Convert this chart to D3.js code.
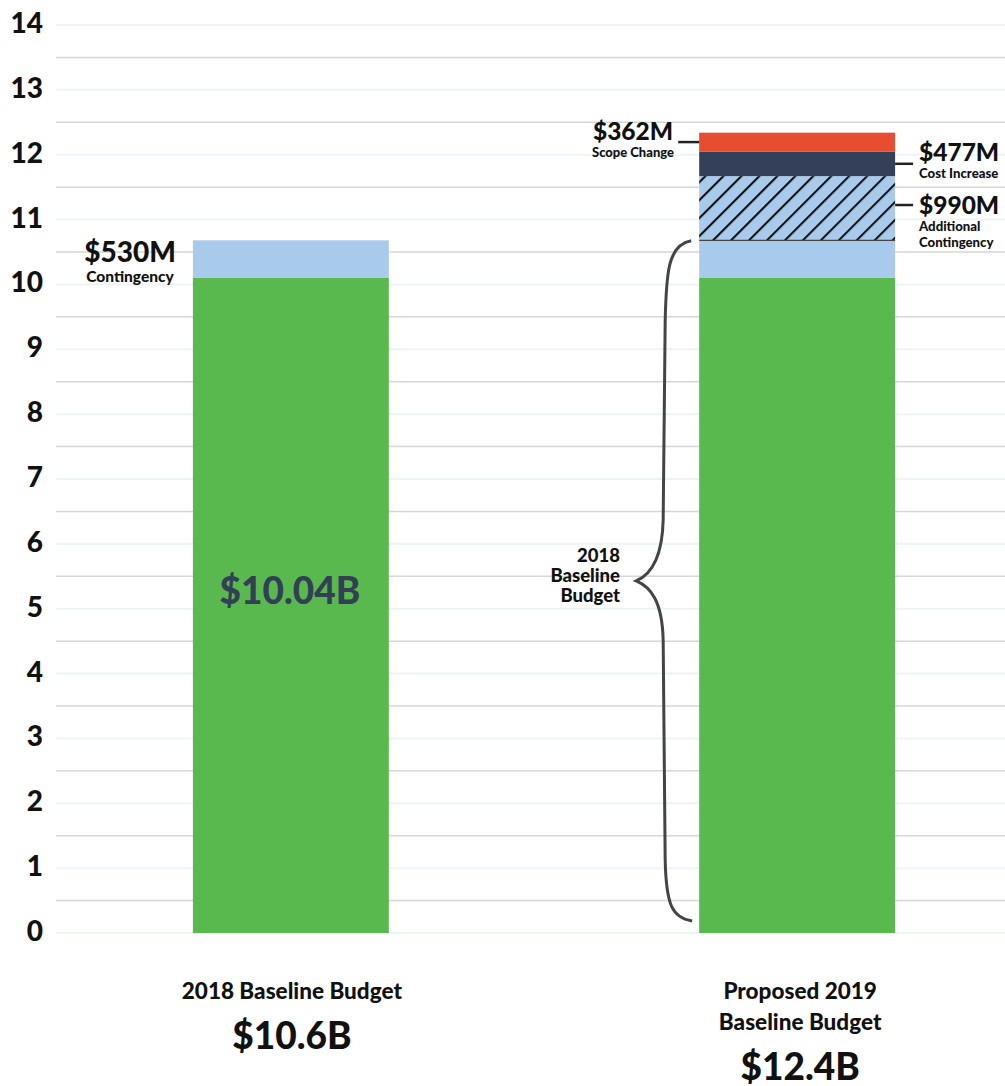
<!DOCTYPE html>
<head>
<meta charset="utf-8">
<style>
body { margin: 0; background: #fff; }
svg { display: block; font-family: Lato, "Open Sans", sans-serif; font-weight: 900; }
.grid-major line { stroke: #edf3f9; stroke-width: 2px; }
.grid-minor line { stroke: #d6d6d6; stroke-width: 1.5px; }
.lead { stroke: #222; stroke-width: 2.5px; }
.heavy { font-weight: 900; }
</style>
</head>
<body>
<svg width="1005" height="1086"></svg>
<script src="https://d3js.org/d3.v7.min.js"></script>
<script>
// values in $ billions
var categories = ["2018", "2019"];
var baseValues = [10.1, 10.1];
var contingencyValues = [0.58, 0.58];
var additionalValues = [0, 0.99];
var costValues = [0, 0.38];
var scopeValues = [0, 0.29];
var segmentKeys = ["base", "contingency", "additional", "cost", "scope"];
var segmentColours = ["#5ab94e", "#a8cbec", "url(#hatch)", "#334057", "#e64d31"];
var yTicks = d3.range(0, 15);
var halfTicks = d3.range(0.5, 14, 1);

var titleLines = [["2018 Baseline Budget"], ["Proposed 2019", "Baseline Budget"]];
var totals = ["$10.6B", "$12.4B"];

var rows = categories.map(function(c, i) {
  return {cat: c, base: baseValues[i], contingency: contingencyValues[i],
    additional: additionalValues[i], cost: costValues[i], scope: scopeValues[i]};
});

var svg = d3.select("svg");

var y = d3.scaleLinear().domain([0, 14]).range([933, 25]);
var x = d3.scaleBand().domain(categories).range([40, 1048])
  .paddingInner(0.613).paddingOuter(0.302);

//hatch pattern for the additional contingency
var defs = svg.append("defs");
var pat = defs.append("pattern")
  .attr("id", "hatch")
  .attr("patternUnits", "userSpaceOnUse")
  .attr("width", 12.7).attr("height", 12.7)
  .attr("patternTransform", "rotate(45)");
pat.append("rect").attr("width", 12.7).attr("height", 12.7).attr("fill", "#a8cbec");
pat.append("line").attr("x1", 1).attr("y1", 0).attr("x2", 1).attr("y2", 12.7)
  .attr("stroke", "#111").attr("stroke-width", 2.2);

//gridlines
svg.append("g").attr("class", "grid-minor")
  .selectAll("line").data(halfTicks).enter().append("line")
  .attr("x1", 56).attr("x2", 1005)
  .attr("y1", function(d) { return y(d); })
  .attr("y2", function(d) { return y(d); });

svg.append("g").attr("class", "grid-major")
  .selectAll("line").data(yTicks).enter().append("line")
  .attr("x1", 56).attr("x2", 1005)
  .attr("y1", function(d) { return y(d); })
  .attr("y2", function(d) { return y(d); });

//y axis labels
var yAxis = d3.axisLeft(y).tickValues(yTicks).tickSize(0).tickPadding(0);
var ax = svg.append("g")
  .attr("transform", "translate(43,-1.5)")
  .call(yAxis);
ax.select(".domain").remove();
ax.selectAll("text").attr("font-family", "Lato, sans-serif").attr("font-weight", 900)
  .attr("font-size", 28).attr("fill", "#111");

//stacked bars
var stack = d3.stack().keys(segmentKeys);
var series = stack(rows);

svg.append("g").selectAll("g").data(series).enter().append("g")
  .attr("fill", function(d, i) { return segmentColours[i]; })
  .selectAll("rect").data(function(d) { return d; }).enter()
  .filter(function(d) { return d[1] > d[0]; })
  .append("rect")
  .attr("x", function(d) { return x(d.data.cat); })
  .attr("width", x.bandwidth())
  .attr("y", function(d) { return y(d[1]); })
  .attr("height", function(d) { return y(d[0]) - y(d[1]); });

//thin line under the hatched block
var addSeg = series[2][1];
svg.append("line")
  .attr("x1", x("2019")).attr("x2", x("2019") + x.bandwidth())
  .attr("y1", y(addSeg[0])).attr("y2", y(addSeg[0]))
  .attr("stroke", "#444").attr("stroke-width", 1.2);

//big label inside the green bar
svg.append("text")
  .attr("class", "heavy")
  .attr("x", x("2018") + x.bandwidth() / 2 - 1)
  .attr("y", 604)
  .attr("text-anchor", "middle")
  .attr("font-size", 37)
  .attr("fill", "#333f55")
  .text("$10.04B");

//segment annotations
function callout(xPos, yPos, anchor, big, bigSize, small, smallSize, gap) {
  var g = svg.append("g");
  g.append("text").attr("class", "heavy").attr("x", xPos).attr("y", yPos)
    .attr("text-anchor", anchor).attr("font-size", bigSize).attr("fill", "#111")
    .text(big);
  small.forEach(function(s, i) {
    g.append("text").attr("x", xPos).attr("y", yPos + gap + 16 * i)
      .attr("text-anchor", anchor).attr("font-size", smallSize).attr("fill", "#111")
      .text(s);
  });
}

callout(130, 262, "middle", "$530M", 28, ["Contingency"], 15.5, 20);
callout(633, 140, "middle", "$362M", 24.5, ["Scope Change"], 13, 17);
callout(919, 161, "start", "$477M", 24.5, ["Cost Increase"], 13.2, 16.5);
callout(919, 214, "start", "$990M", 24.5, ["Additional", "Contingency"], 13.2, 17);

var scopeSeg = series[4][1], costSeg = series[3][1];
var barL = x("2019"), barR = x("2019") + x.bandwidth();
svg.append("line").attr("class", "lead")
  .attr("x1", barL - 21).attr("x2", barL)
  .attr("y1", y((scopeSeg[0] + scopeSeg[1]) / 2)).attr("y2", y((scopeSeg[0] + scopeSeg[1]) / 2));
svg.append("line").attr("class", "lead")
  .attr("x1", barR).attr("x2", barR + 18)
  .attr("y1", y((costSeg[0] + costSeg[1]) / 2)).attr("y2", y((costSeg[0] + costSeg[1]) / 2));
svg.append("line").attr("class", "lead")
  .attr("x1", barR).attr("x2", barR + 18)
  .attr("y1", y(addSeg[0] + (addSeg[1] - addSeg[0]) * 0.55))
  .attr("y2", y(addSeg[0] + (addSeg[1] - addSeg[0]) * 0.55));

//curly brace for the 2018 baseline
var bTop = y(baseValues[1] + contingencyValues[1]) + 0.5,
    bBot = y(0) - 12,
    bMid = (bTop + bBot) / 2,
    ex = barL - 8, cx = barL - 35, tx = barL - 63;
var brace = d3.path();
brace.moveTo(ex, bTop);
brace.bezierCurveTo(cx + 4, bTop + 4, cx + 2, bTop + 31, cx + 1, bTop + 81);
brace.lineTo(cx - 1, bMid - 61);
brace.bezierCurveTo(cx - 2, bMid - 21, cx - 14, bMid - 6, tx, bMid);
brace.bezierCurveTo(cx - 14, bMid + 6, cx - 2, bMid + 19, cx - 1, bMid + 59);
brace.lineTo(cx + 1, bBot - 61);
brace.bezierCurveTo(cx + 2, bBot - 16, cx + 8, bBot - 3, ex + 1, bBot);
svg.append("path").attr("d", brace.toString())
  .attr("fill", "none").attr("stroke", "#444").attr("stroke-width", 3);

svg.append("g").selectAll("text").data(["2018", "Baseline", "Budget"]).enter()
  .append("text")
  .attr("x", 620)
  .attr("y", function(d, i) { return bMid - 19 + i * 20; })
  .attr("text-anchor", "end")
  .attr("font-size", 18.5)
  .attr("fill", "#111")
  .text(function(d) { return d; });

//category titles under the bars
categories.forEach(function(c, i) {
  var cxp = x(c) + x.bandwidth() / 2 + (i ? 3 : 1);
  var lines = titleLines[i];
  lines.forEach(function(t, j) {
    svg.append("text").attr("x", cxp).attr("y", 999 + j * 30.5)
      .attr("text-anchor", "middle").attr("font-size", 22.5).attr("fill", "#111")
      .text(t);
  });
  svg.append("text").attr("class", "heavy").attr("x", cxp)
    .attr("y", 999 + (lines.length - 1) * 30.5 + 50)
    .attr("text-anchor", "middle").attr("font-size", 37).attr("fill", "#111")
    .text(totals[i]);
});
</script>
</body>
</html>
